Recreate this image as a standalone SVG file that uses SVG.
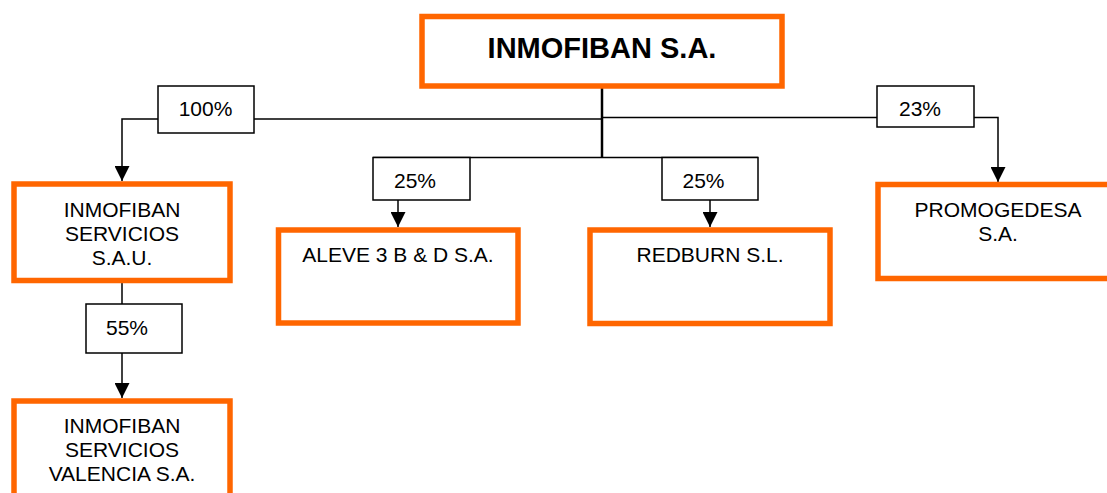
<svg xmlns="http://www.w3.org/2000/svg" width="1107" height="493" viewBox="0 0 1107 493">
<style>
.node{fill:#fff;stroke:#FF6600;stroke-width:5.5}
.lbl{fill:#fff;stroke:#000;stroke-width:1.5}
.ln{fill:none;stroke:#000;stroke-width:1.5}
.t{font-family:"Liberation Sans",Arial,sans-serif;font-size:21px;fill:#000;text-anchor:middle}
.tb{font-family:"Liberation Sans",Arial,sans-serif;font-size:29px;font-weight:bold;fill:#000;text-anchor:middle}
</style>
<defs>
<marker id="ah" markerUnits="userSpaceOnUse" viewBox="0 0 16 16" refX="16" refY="8" markerWidth="16" markerHeight="15" orient="auto">
<path d="M0,0 L16,8 L0,16 z" fill="#000"/>
</marker>
</defs>
<rect width="1107" height="493" fill="#fff"/>
<g id="connectors">
<path class="ln" d="M602,88 V157.5" style="stroke-width:2.5"/>
<path class="ln" d="M602,119 H254"/>
<path class="ln" d="M158,119 H122 V181" marker-end="url(#ah)"/>
<path class="ln" d="M602,117.5 H877"/>
<path class="ln" d="M974,117.5 H998 V182" marker-end="url(#ah)"/>
<path class="ln" d="M373,157.5 H758"/>
<path class="ln" d="M398,200 V227" marker-end="url(#ah)"/>
<path class="ln" d="M710,200 V227" marker-end="url(#ah)"/>
<path class="ln" d="M122,283 V304"/>
<path class="ln" d="M122,353 V398" marker-end="url(#ah)"/>
<g id="lbl100"><rect class="lbl" x="158" y="86" width="96" height="47"/><text class="t" x="205.5" y="116">100%</text></g>
<g id="lbl23"><rect class="lbl" x="877" y="86" width="97" height="41"/><text class="t" x="920" y="116">23%</text></g>
<g id="lbl25a"><rect class="lbl" x="373" y="157.5" width="97" height="42.5"/><text class="t" x="415" y="188">25%</text></g>
<g id="lbl25b"><rect class="lbl" x="662" y="157.5" width="96" height="42.5"/><text class="t" x="703.5" y="188">25%</text></g>
<g id="lbl55"><rect class="lbl" x="86" y="304" width="96" height="49"/><text class="t" x="127" y="335">55%</text></g>
</g>
<g id="inmofiban">
<rect class="node" x="422" y="16.5" width="360" height="69.5"/>
<text class="tb" x="602" y="58">INMOFIBAN S.A.</text>
</g>
<g id="servicios">
<rect class="node" x="14" y="184" width="216" height="96.5"/>
<text class="t" x="122" y="216.5">INMOFIBAN</text>
<text class="t" x="122" y="240.5">SERVICIOS</text>
<text class="t" x="122" y="265">S.A.U.</text>
</g>
<g id="aleve">
<rect class="node" x="278.5" y="230" width="239.5" height="93"/>
<text class="t" x="398" y="261.5">ALEVE 3 B &amp; D S.A.</text>
</g>
<g id="redburn">
<rect class="node" x="590" y="230" width="240" height="93.5"/>
<text class="t" x="710" y="261.5">REDBURN S.L.</text>
</g>
<g id="promogedesa">
<rect class="node" x="878" y="184.5" width="240" height="94"/>
<text class="t" x="998" y="216.5">PROMOGEDESA</text>
<text class="t" x="998" y="240.5">S.A.</text>
</g>
<g id="valencia">
<rect class="node" x="14" y="401" width="216" height="110"/>
<text class="t" x="122" y="432.5">INMOFIBAN</text>
<text class="t" x="122" y="456.5">SERVICIOS</text>
<text class="t" x="122" y="481">VALENCIA S.A.</text>
</g>
</svg>
